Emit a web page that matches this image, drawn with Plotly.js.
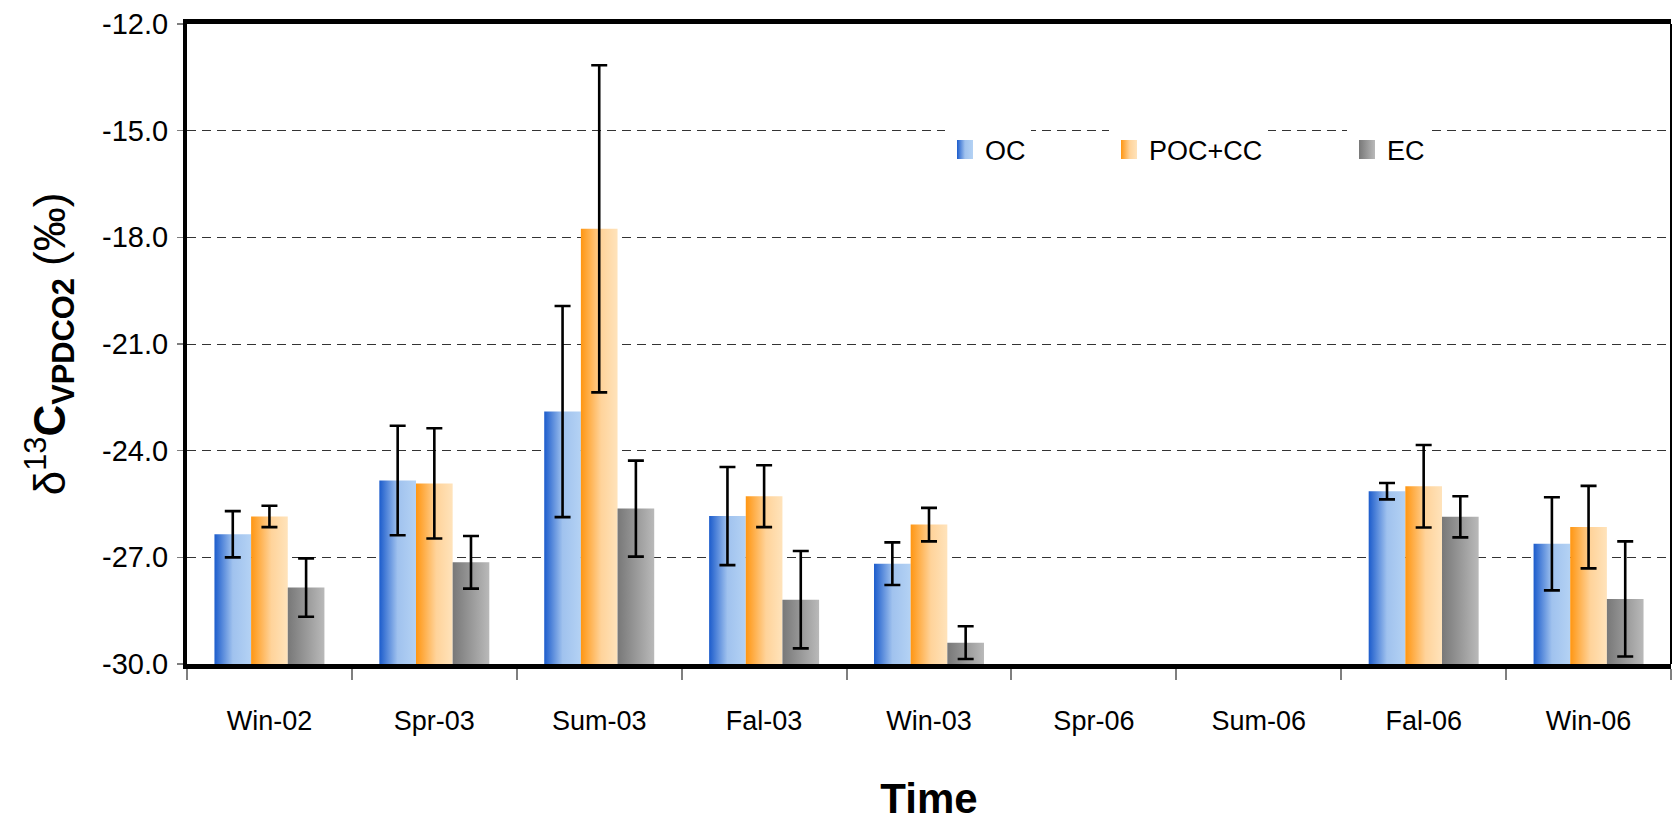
<!DOCTYPE html>
<html>
<head>
<meta charset="utf-8">
<script src="https://cdn.plot.ly/plotly-3.0.1.min.js"></script>
<style>
  html, body { margin: 0; padding: 0; background: #ffffff; }
  #chart { width: 1673px; height: 824px; }
</style>
</head>
<body>
<div id="chart"></div>
<script>
// ---- data ----
const categories = ['Win-02', 'Spr-03', 'Sum-03', 'Fal-03', 'Win-03', 'Spr-06', 'Sum-06', 'Fal-06', 'Win-06'];

const ocValues  = [-26.35, -24.84, -22.90, -25.84, -27.18, null, null, -25.14, -26.62];
const ocErrors  = [0.65, 1.54, 2.97, 1.38, 0.60, null, null, 0.23, 1.31];

const pocValues = [-25.85, -24.92, -17.76, -25.28, -26.08, null, null, -25.00, -26.15];
const pocErrors = [0.30, 1.55, 4.60, 0.87, 0.47, null, null, 1.16, 1.16];

const ecValues  = [-27.85, -27.14, -25.63, -28.19, -29.40, null, null, -25.86, -28.17];
const ecErrors  = [0.82, 0.74, 1.35, 1.37, 0.46, null, null, 0.58, 1.62];

const seriesNames = ['OC', 'POC+CC', 'EC'];

const yTickVals = [-30, -27, -24, -21, -18, -15, -12];
const yTickText = ['-30.0', '-27.0', '-24.0', '-21.0', '-18.0', '-15.0', '-12.0'];

const axisBase = -30;

// ---- styling ----
const FONT = 'Liberation Sans, Arial, sans-serif';
const gradients = [
  {id: 'gOC',  stops: [[0, '#1c5ccc'], [0.5, '#a0c2ee'], [1, '#b4d2f4']], flat: '#7aa6e4'},
  {id: 'gPOC', stops: [[0, '#ff9612'], [0.55, '#ffd39a'], [1, '#ffe3bb']], flat: '#ffc27a'},
  {id: 'gEC',  stops: [[0, '#787878'], [1, '#b9b9b9']], flat: '#9c9c9c'}
];

function lengths(vals) { return vals.map(v => v === null ? null : v - axisBase); }

function makeTrace(i, vals, errs, legendId) {
  return {
    type: 'bar',
    name: seriesNames[i],
    x: categories,
    y: lengths(vals),
    base: axisBase,
    legend: legendId,
    marker: {color: gradients[i].flat, line: {width: 0}},
    error_y: {type: 'data', array: errs, visible: true, color: '#000000', thickness: 2.6, width: 8},
    hoverinfo: 'skip'
  };
}

const data = [
  makeTrace(0, ocValues, ocErrors, 'legend'),
  makeTrace(1, pocValues, pocErrors, 'legend2'),
  makeTrace(2, ecValues, ecErrors, 'legend3')
];

const L = 187, R = 1671, T = 24, B = 664;
const PW = R - L, PH = B - T;
function px(xp) { return (xp - L) / PW; }
function py(yp) { return (B - yp) / PH; }

const legendFont = {family: FONT, size: 27, color: '#000000'};
function legendAt(textStart) {
  return {
    x: px(textStart - 42), xanchor: 'left',
    y: py(150), yanchor: 'middle',
    orientation: 'h', bgcolor: '#ffffff', borderwidth: 0,
    font: legendFont, itemclick: false, itemdoubleclick: false
  };
}

const layout = {
  width: 1673,
  height: 824,
  margin: {l: L, r: 1673 - R, t: T, b: 824 - B, pad: 0},
  paper_bgcolor: '#ffffff',
  plot_bgcolor: '#ffffff',
  font: {family: FONT, color: '#000000'},
  barmode: 'group',
  bargap: 0.333,
  bargroupgap: 0,
  showlegend: true,
  legend: legendAt(987),
  legend2: legendAt(1151),
  legend3: legendAt(1389),
  xaxis: {
    type: 'category',
    categoryorder: 'array',
    categoryarray: categories,
    showgrid: false,
    showline: true, linecolor: '#000000', linewidth: 5, mirror: true,
    ticks: 'outside', tickson: 'boundaries', ticklen: 11, tickwidth: 2, tickcolor: '#7f7f7f',
    tickfont: {family: FONT, size: 27, color: '#000000'},
    ticklabelstandoff: 29,
    title: {text: '<b>Time</b>', font: {family: FONT, size: 42, color: '#000000'}, standoff: 50},
    fixedrange: true
  },
  yaxis: {
    range: [-30, -12],
    tickmode: 'array',
    tickvals: yTickVals,
    ticktext: yTickText,
    showgrid: true, gridcolor: '#333333', gridwidth: 1, griddash: '9px,6px',
    zeroline: false,
    showline: true, linecolor: '#000000', linewidth: 4,
    ticks: 'outside', ticklen: 6, tickwidth: 1.5, tickcolor: '#7f7f7f',
    tickfont: {family: FONT, size: 29, color: '#000000'},
    ticklabelstandoff: 3,
    title: {
      text: 'δ<sup>13</sup><b>C</b><sub><b>VPDCO2</b></sub> <span style="font-weight:normal">(‰)</span>',
      font: {family: FONT, size: 44, color: '#000000'},
      standoff: 24
    },
    fixedrange: true
  },
  shapes: [
    // legend box background interrupting the -15 gridline
    {type: 'rect', layer: 'between', xref: 'paper', yref: 'paper',
     x0: px(910), x1: px(1472), y0: py(118), y1: py(185),
     fillcolor: '#ffffff', line: {width: 0}},
    // thin right border of the plot frame
    {type: 'line', layer: 'above', xref: 'paper', yref: 'paper',
     x0: 1, x1: 1, y0: 0, y1: 1, line: {color: '#000000', width: 2}}
  ]
};

function applyGradients(gd) {
  const svg = gd.querySelector('svg.main-svg');
  let defs = svg.querySelector('defs');
  const NS = 'http://www.w3.org/2000/svg';
  gradients.forEach(g => {
    if (svg.querySelector('#' + g.id)) return;
    const lg = document.createElementNS(NS, 'linearGradient');
    lg.setAttribute('id', g.id);
    lg.setAttribute('x1', '0'); lg.setAttribute('y1', '0');
    lg.setAttribute('x2', '1'); lg.setAttribute('y2', '0');
    g.stops.forEach(s => {
      const st = document.createElementNS(NS, 'stop');
      st.setAttribute('offset', String(s[0]));
      st.setAttribute('stop-color', s[1]);
      lg.appendChild(st);
    });
    defs.appendChild(lg);
  });
  const traces = gd.querySelectorAll('.barlayer .trace.bars');
  traces.forEach((tr, i) => {
    tr.querySelectorAll('.point path').forEach(p => {
      p.style.fill = 'url(#' + gradients[i].id + ')';
    });
  });
  ['legend', 'legend2', 'legend3'].forEach((id, i) => {
    gd.querySelectorAll('g.' + id + ' .legendpoints path').forEach(p => {
      p.setAttribute('d', 'M8,9.5H-8V-9.5H8Z');
      p.style.fill = 'url(#' + gradients[i].id + ')';
      p.style.stroke = 'none';
    });
  });
}

Plotly.newPlot('chart', data, layout, {staticPlot: true, displayModeBar: false}).then(gd => {
  applyGradients(gd);
});
</script>
</body>
</html>
